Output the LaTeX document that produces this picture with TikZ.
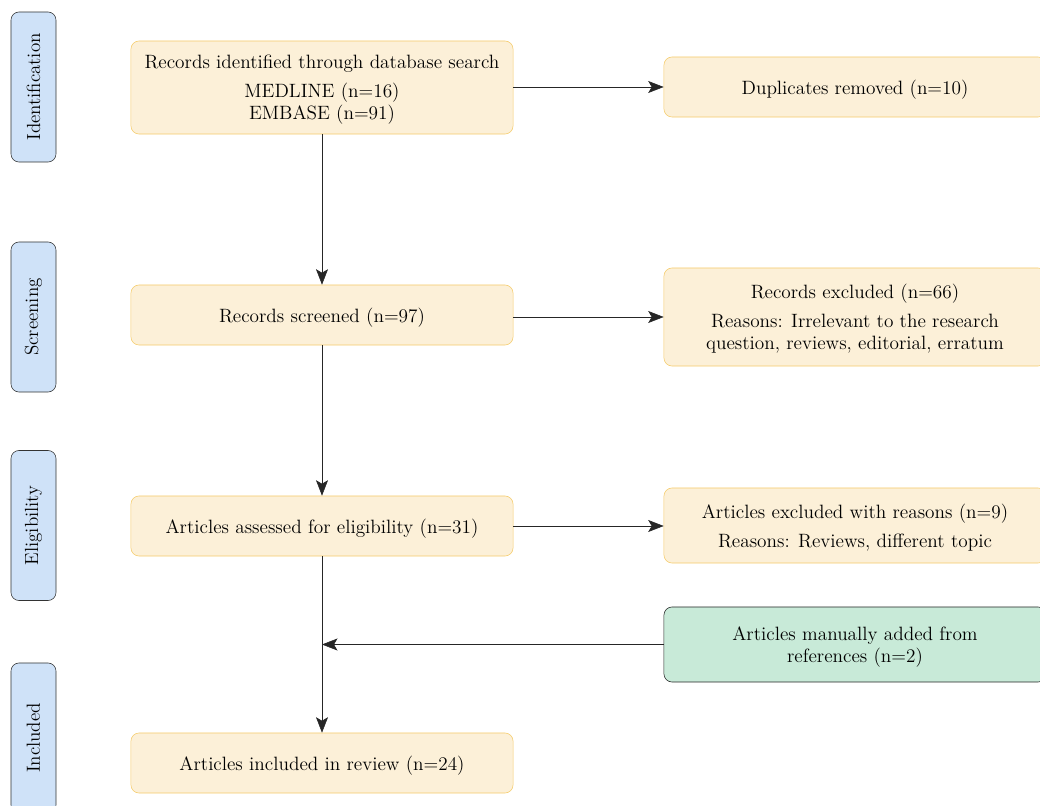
\documentclass[tikz,border=0pt]{standalone}
\usepackage{tikz}
\usetikzlibrary{shapes,arrows.meta,positioning}
\definecolor{stagefill}{HTML}{FCF0D8}
\definecolor{stageline}{HTML}{F5CB6A}
\definecolor{phasefill}{HTML}{CFE2F8}
\definecolor{addedfill}{HTML}{C8EAD8}
\tikzstyle{stage} = [draw=stageline, fill=stagefill, rounded corners=0.2cm,
    align=center, minimum width=9.55cm, minimum height=1.5cm, text depth=0pt,
    font=\fontsize{13.7}{15.5}\selectfont]
\tikzstyle{phase} = [draw=black!80, fill=phasefill, rounded corners=0.2cm,
    rotate=90, minimum width=3.75cm, minimum height=1.125cm,
    font=\fontsize{13.5}{16}\selectfont]
\tikzstyle{flow} = [draw, black!85, -{Stealth[length=11pt,width=8.5pt,inset=2.5pt]}]

\begin{document}
\begin{tikzpicture}[x=0.025cm, y=-0.025cm]
  \useasboundingbox (0,0) rectangle (1040,806);
  % phases
  \node [phase] (ident) at (33.5,87) {Identification};
  \node [phase] (screen) at (33.5,317) {Screening};
  \node [phase] (elig) at (33.5,525.5) {Eligibility};
  \node [phase] (incl) at (33.5,738) {Included};
  % main column
  \node [stage, minimum height=2.325cm] (records) at (322,87.5)
    {Records identified through database search\\[5pt]
     MEDLINE (n=16)\\ EMBASE (n=91)};
  \node [stage] (screened) at (322,315) {Records screened (n=97)};
  \node [stage] (assessed) at (322,526) {Articles assessed for eligibility (n=31)};
  \node [stage] (included) at (322,763) {Articles included in review (n=24)};
  % side column
  \node [stage] (dupl) at (855,87) {Duplicates removed (n=10)};
  \node [stage, minimum height=2.45cm] (recexcl) at (855,317)
    {Records excluded (n=66)\\[5pt]
     Reasons: Irrelevant to the research\\ question, reviews, editorial, erratum};
  \node [stage, minimum height=1.875cm] (artexcl) at (855,525.5)
    {Articles excluded with reasons (n=9)\\[5pt]
     Reasons: Reviews, different topic};
  \node [stage, draw=black!85, fill=addedfill, minimum height=1.875cm] (added) at (855,644.5)
    {Articles manually added from\\ references (n=2)};
  \coordinate (join) at (assessed.south |- added.west);
  % connectors
  \draw [flow] (records) -- (screened);
  \draw [flow] (screened) -- (assessed);
  \draw [flow] (assessed) -- (included);
  \draw [flow] (records.east |- dupl.west) -- (dupl.west);
  \draw [flow] (screened.east |- recexcl.west) -- (recexcl.west);
  \draw [flow] (assessed.east) -- (assessed.east -| artexcl.west);
  \draw [flow] (added) -- (join);
\end{tikzpicture}
\end{document}
